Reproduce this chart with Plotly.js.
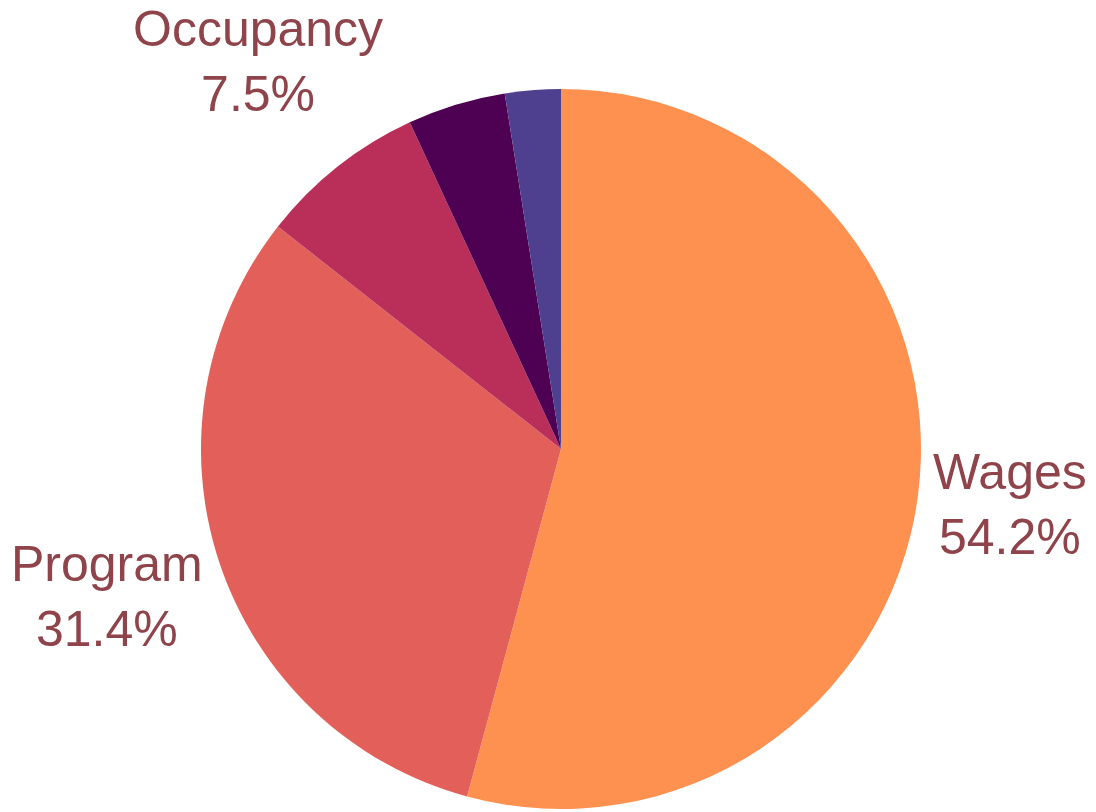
<!DOCTYPE html>
<html>
<head>
<meta charset="utf-8">
<script src="https://cdn.plot.ly/plotly-3.0.1.min.js"></script>
<style>html,body{margin:0;padding:0;background:#fff;}#chart{width:1096px;height:812px;}</style>
</head>
<body>
<div id="chart"></div>
<script>
const categories = ["Wages", "Program", "Occupancy", "Supplies", "Other"];
const values = [54.2, 31.4, 7.5, 4.4, 2.5];
const sliceColors = ["#fe914f", "#e35f59", "#b92f5a", "#4e0052", "#4e3f8f"];
const showLabel = [true, true, true, false, false];

const W = 1096, H = 812;
// label anchor positions in pixels (centre of each text block)
const labelPos = {
  "Wages":     [1010, 504],
  "Program":   [107, 596],
  "Occupancy": [258, 62]
};

const total = values.reduce((a, b) => a + b, 0);
const annotations = [];
categories.forEach((c, i) => {
  if (!showLabel[i]) return;
  const p = labelPos[c];
  annotations.push({
    xref: "paper", yref: "paper",
    x: p[0] / W, y: 1 - p[1] / H,
    xanchor: "center", yanchor: "middle",
    showarrow: false,
    align: "center",
    text: c + "<br>" + (values[i] / total * 100).toFixed(1) + "%",
    font: {family: "Liberation Sans, Arial, sans-serif", size: 50, color: "#8f434a"}
  });
});

Plotly.newPlot("chart", [{
  type: "pie",
  labels: categories,
  values: values,
  sort: true,
  direction: "clockwise",
  rotation: 0,
  marker: {colors: sliceColors, line: {width: 0}},
  textinfo: "none",
  showlegend: false,
  hoverinfo: "label+percent",
  domain: {x: [201/W, 921/W], y: [3/H, 723/H]}
}], {
  width: W,
  height: H,
  margin: {l: 0, r: 0, t: 0, b: 0},
  paper_bgcolor: "#ffffff",
  showlegend: false,
  annotations: annotations
}, {displayModeBar: false, staticPlot: true});
</script>
</body>
</html>
